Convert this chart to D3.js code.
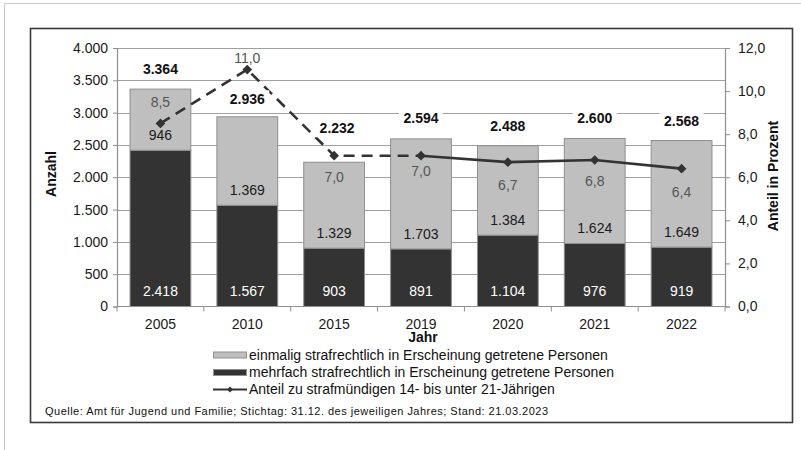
<!DOCTYPE html>
<html>
<head>
<meta charset="utf-8">
<script src="https://cdn.jsdelivr.net/npm/d3@7"></script>
<style>
  html, body { margin: 0; padding: 0; background: #fff; }
  svg { display: block; font-family: "Liberation Sans", Arial, sans-serif; }
</style>
</head>
<body>
<svg id="chart" width="801" height="450"></svg>
<script>
// ---- data ----
const years = ["2005", "2010", "2015", "2019", "2020", "2021", "2022"];
const mehrfach = [2418, 1567, 903, 891, 1104, 976, 919];
const einmalig = [946, 1369, 1329, 1703, 1384, 1624, 1649];
const totals = [3364, 2936, 2232, 2594, 2488, 2600, 2568];
const anteil = [8.5, 11.0, 7.0, 7.0, 6.7, 6.8, 6.4];
const leftTicks = [0, 500, 1000, 1500, 2000, 2500, 3000, 3500, 4000];
const rightTicks = [0, 2, 4, 6, 8, 10, 12];
const legendLabels = [
  "einmalig strafrechtlich in Erscheinung getretene Personen",
  "mehrfach strafrechtlich in Erscheinung getretene Personen",
  "Anteil zu strafmündigen 14- bis unter 21-Jährigen"
];
const sourceText = "Quelle: Amt für Jugend und Familie; Stichtag: 31.12. des jeweiligen Jahres; Stand: 21.03.2023";

// ---- layout / style ----
const plot = { left: 117, right: 725, top: 48, bottom: 306.5 };
const DARK = "#333333", LIGHT = "#bfbfbf", EDGE = "#8f8f8f", GRID = "#a0a0a0";
const totalNudge = [-20, -17.5, -34, -21, -20, -20, -19];
const pctNudge = [-21, -11, 21, 15, 23, 21.5, 23];

const de = d3.formatLocale({ decimal: ",", thousands: ".", grouping: [3], currency: ["", " €"] });
const fInt = de.format(",d");
const fPct = de.format(".1f");

const svg = d3.select("#chart");

// outer light frame
svg.append("path").attr("d", "M4.5,450 V3.5 H801")
  .attr("fill", "none").attr("stroke", "#c8c8c8").attr("stroke-width", 1);
// inner chart frame
svg.append("rect").attr("x", 30.5).attr("y", 28.5).attr("width", 762).attr("height", 394)
  .attr("fill", "#fff").attr("stroke", "#3a3a3a").attr("stroke-width", 1.6);

const x = d3.scaleBand().domain(years).range([plot.left, plot.right])
  .paddingInner(0.3).paddingOuter(0.15);
const y = d3.scaleLinear().domain([0, 4000]).range([plot.bottom, plot.top]);
const y2 = d3.scaleLinear().domain([0, 12]).range([plot.bottom, plot.top]);

// gridlines
svg.append("g").selectAll("line").data(leftTicks.filter(d => d > 0)).join("line")
  .attr("x1", plot.left).attr("x2", plot.right)
  .attr("y1", d => Math.round(y(d)) + 0.5).attr("y2", d => Math.round(y(d)) + 0.5)
  .attr("stroke", GRID).attr("stroke-width", 1);

// left axis
const gL = svg.append("g").attr("transform", `translate(${plot.left},0)`)
  .call(d3.axisLeft(y).tickValues(leftTicks).tickFormat(fInt).tickSize(4).tickPadding(5));
// right axis
const gR = svg.append("g").attr("transform", `translate(${plot.right},0)`)
  .call(d3.axisRight(y2).tickValues(rightTicks).tickFormat(fPct).tickSize(5).tickPadding(8));
// bottom axis (labels)
const gB = svg.append("g").attr("transform", `translate(0,${plot.bottom})`)
  .call(d3.axisBottom(x).tickSize(0).tickPadding(13));
// bottom boundary ticks
const step = x.step();
svg.append("g").selectAll("line").data(d3.range(years.length + 1)).join("line")
  .attr("x1", i => plot.left + i * step).attr("x2", i => plot.left + i * step)
  .attr("y1", plot.bottom).attr("y2", plot.bottom + 5)
  .attr("stroke", EDGE).attr("stroke-width", 1);

[gL, gR, gB].forEach(g => {
  g.selectAll(".domain").attr("stroke", EDGE).attr("stroke-width", 1.2);
  g.selectAll(".tick line").attr("stroke", EDGE);
  g.selectAll("text").attr("font-size", 14).attr("fill", "#1a1a1a")
    .attr("font-family", "'Liberation Sans', Arial, sans-serif");
});
gB.select(".domain").remove();
svg.append("line").attr("x1", plot.left).attr("x2", plot.right)
  .attr("y1", plot.bottom).attr("y2", plot.bottom).attr("stroke", EDGE).attr("stroke-width", 1.2);

// bars
const bars = svg.append("g");
years.forEach((yr, i) => {
  const x0 = x(yr), w = x.bandwidth();
  bars.append("rect").attr("x", x0).attr("width", w)
    .attr("y", y(mehrfach[i])).attr("height", y(0) - y(mehrfach[i]))
    .attr("fill", DARK).attr("stroke", EDGE).attr("stroke-width", 1);
  bars.append("rect").attr("x", x0).attr("width", w)
    .attr("y", y(totals[i])).attr("height", y(mehrfach[i]) - y(totals[i]))
    .attr("fill", LIGHT).attr("stroke", EDGE).attr("stroke-width", 1);
});

// inner value labels
const cx = yr => x(yr) + x.bandwidth() / 2;
svg.append("g").selectAll("text").data(years).join("text")
  .attr("x", cx).attr("y", (d, i) => y(0) - 15).attr("dy", "0.35em")
  .attr("text-anchor", "middle").attr("font-size", 14).attr("fill", "#ffffff")
  .text((d, i) => fInt(mehrfach[i]));
svg.append("g").selectAll("text").data(years).join("text")
  .attr("x", cx).attr("y", (d, i) => y(mehrfach[i]) - 15).attr("dy", "0.35em")
  .attr("text-anchor", "middle").attr("font-size", 14).attr("fill", "#1a1a1a")
  .text((d, i) => fInt(einmalig[i]));

// line (dashed part then solid part)
const pts = years.map((yr, i) => [cx(yr), y2(anteil[i])]);
const line = d3.line();
svg.append("path").attr("d", line(pts.slice(0, 4)))
  .attr("fill", "none").attr("stroke", DARK).attr("stroke-width", 2.6)
  .attr("stroke-dasharray", "11,7");
svg.append("path").attr("d", line(pts.slice(3)))
  .attr("fill", "none").attr("stroke", DARK).attr("stroke-width", 2.6);
svg.append("g").selectAll("path").data(pts).join("path")
  .attr("transform", d => `translate(${d[0]},${d[1]})`)
  .attr("d", d3.symbol(d3.symbolDiamond2, 60)())
  .attr("fill", DARK);

// percent labels
svg.append("g").selectAll("text").data(years).join("text")
  .attr("x", cx).attr("y", (d, i) => y2(anteil[i]) + pctNudge[i]).attr("dy", "0.35em")
  .attr("text-anchor", "middle").attr("font-size", 14).attr("fill", "#555")
  .text((d, i) => fPct(anteil[i]));

// total labels with white background
const tg = svg.append("g");
years.forEach((yr, i) => {
  const ty = y(totals[i]) + totalNudge[i];
  const xx = cx(yr) + (i === 2 ? 3 : 0);
  tg.append("rect").attr("x", xx - 22).attr("y", ty - 9).attr("width", 44).attr("height", 18)
    .attr("fill", "#fff");
  tg.append("text").attr("x", xx).attr("y", ty).attr("dy", "0.35em")
    .attr("text-anchor", "middle").attr("font-size", 14).attr("font-weight", "bold")
    .attr("fill", "#111").text(fInt(totals[i]));
});

// axis titles
svg.append("text").attr("transform", "translate(51,174) rotate(-90)")
  .attr("text-anchor", "middle").attr("dy", "0.35em")
  .attr("font-size", 14).attr("font-weight", "bold").attr("fill", "#111").text("Anzahl");
svg.append("text").attr("transform", "translate(773,176) rotate(-90)")
  .attr("text-anchor", "middle").attr("dy", "0.35em")
  .attr("font-size", 14).attr("font-weight", "bold").attr("fill", "#111").text("Anteil in Prozent");
svg.append("text").attr("x", (plot.left + plot.right) / 2 + 2).attr("y", 337).attr("dy", "0.35em")
  .attr("text-anchor", "middle").attr("font-size", 14).attr("font-weight", "bold")
  .attr("fill", "#111").text("Jahr");

// legend
const lg = svg.append("g").attr("transform", "translate(213,0)");
const rowsY = [355, 372.5, 389.5];
lg.append("rect").attr("x", 0.5).attr("y", rowsY[0] - 3).attr("width", 33).attr("height", 6)
  .attr("fill", LIGHT).attr("stroke", EDGE);
lg.append("rect").attr("x", 0.5).attr("y", rowsY[1] - 3).attr("width", 33).attr("height", 6)
  .attr("fill", DARK).attr("stroke", EDGE);
lg.append("line").attr("x1", 0).attr("x2", 34).attr("y1", rowsY[2]).attr("y2", rowsY[2])
  .attr("stroke", DARK).attr("stroke-width", 2);
lg.append("path").attr("transform", `translate(17,${rowsY[2]})`)
  .attr("d", d3.symbol(d3.symbolDiamond2, 22)()).attr("fill", DARK);
lg.selectAll("text.lbl").data(legendLabels).join("text").attr("class", "lbl")
  .attr("x", 36).attr("y", (d, i) => rowsY[i]).attr("dy", "0.35em")
  .attr("font-size", 14).attr("fill", "#111").text(d => d);

// source
svg.append("text").attr("x", 45).attr("y", 411).attr("dy", "0.35em")
  .attr("font-size", 11).attr("fill", "#111")
  .attr("textLength", 503).attr("lengthAdjust", "spacing").text(sourceText);
</script>
</body>
</html>
